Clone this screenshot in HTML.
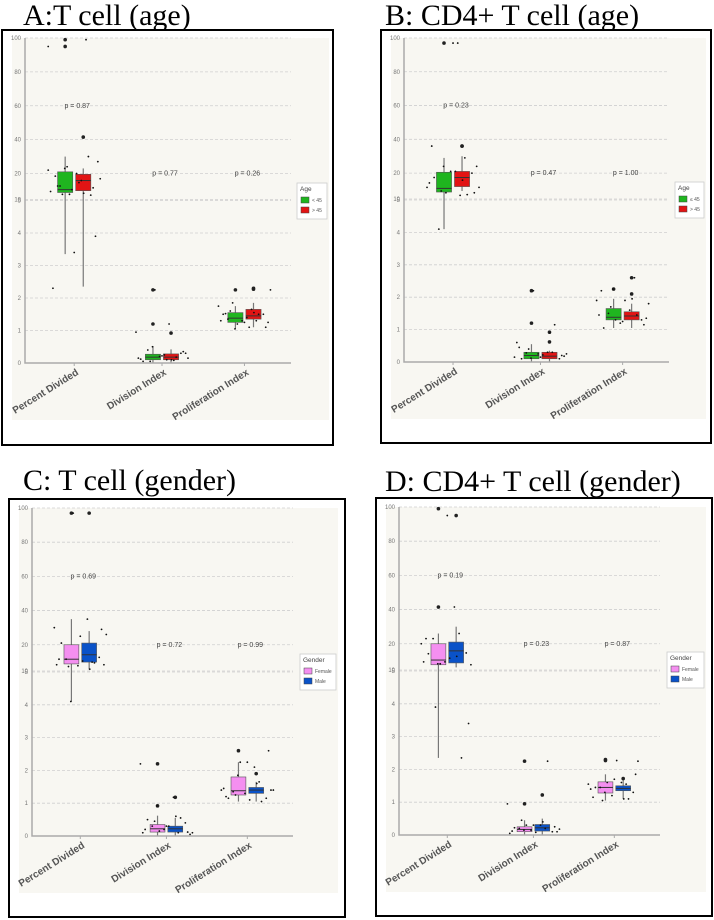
<!DOCTYPE html>
<html><head><meta charset="utf-8"><style>
html,body{margin:0;padding:0;background:#fff;}
svg{display:block;font-family:"Liberation Sans",sans-serif;}
</style></head><body>
<svg id="fig" width="714" height="920" viewBox="0 0 714 920" xmlns="http://www.w3.org/2000/svg"></svg>
<script>
// ---------- data ----------
const categories = ["Percent Divided","Division Index","Proliferation Index"];
const yTicksLower = [0,1,2,3,4,5];
const yTicksUpper = [10,20,40,60,80,100];
// box stats: [q1, median, q3, whiskerLow, whiskerHigh] per category, per group
const boxA1 = [[12.7,13.8,21,3.35,30],[0.1,0.18,0.27,0.02,0.52],[1.25,1.38,1.55,1.05,1.75]];
const boxA2 = [[13.4,17.3,19.7,2.35,23],[0.1,0.18,0.28,0.02,0.42],[1.35,1.45,1.65,1.1,1.85]];
const boxB1 = [[12.7,14.1,20.5,4.1,29],[0.1,0.2,0.3,0.02,0.55],[1.3,1.38,1.65,1.05,1.95]];
const boxB2 = [[14.8,18.3,21,13.1,30],[0.1,0.18,0.3,0.02,0.35],[1.3,1.42,1.55,1.05,1.8]];
const boxC1 = [[12.7,14.5,20,4.1,35],[0.12,0.22,0.35,0.02,0.62],[1.25,1.38,1.8,1.05,2.25]];
const boxC2 = [[13.4,16.2,21,10.7,28],[0.12,0.22,0.3,0.02,0.55],[1.3,1.4,1.48,1.05,1.65]];
const boxD1 = [[12,13.8,20,2.35,26],[0.1,0.17,0.25,0.02,0.45],[1.28,1.45,1.62,1.05,1.85]];
const boxD2 = [[12.7,17.3,21,11,30],[0.12,0.22,0.32,0.02,0.5],[1.35,1.42,1.5,1.1,1.7]];
// outliers per category (group1, group2)
const outA1 = [[99,95],[2.25,1.2],[2.25]];
const outA2 = [[41.5],[0.92],[2.3,2.27]];
const outB1 = [[97],[2.2,1.2],[2.25]];
const outB2 = [[36,36],[0.92,0.62],[2.6,2.1]];
const outC1 = [[97],[2.2,0.92],[2.6]];
const outC2 = [[97],[1.18],[1.9]];
const outD1 = [[99,41.5],[2.25,0.95],[2.3,2.27]];
const outD2 = [[95],[1.22],[1.72]];
// jittered raw points per category
const ptsA = [[22,17.3,15.2,14.5,13.8,13.1,12.4,12,3.9,3.4,2.3,99,23,27,20,19,30,24,18,16.5,15.2,11.7,12,95],
  [0.95,1.2,0.4,0.3,0.2,0.15,0.1,0.05,0.35,0.22,0.12,0.08,0.5,0.3,0.25,0.05,0.18,2.25,0.15,0.1],
  [1.75,1.65,1.6,1.5,1.3,1.3,1.55,1.85,1.1,1.25,1.5,1.3,1.05,1.25,1.4,1.52,1.5,1.2,2.25,1.1,1.35]];
const ptsB = [[14.5,11.4,4.1,20,21,16.2,17.3,13.1,12.4,97,36,29,24,24,21,18.3,11.7,12.4,14.5,97],
  [0.15,0.3,0.28,0.1,0.25,0.6,0.9,0.4,0.2,0.15,0.45,0.3,0.12,0.18,0.22,0.1,1.15,2.2,0.25],
  [1.9,1.6,1.5,1.3,1.2,1.45,1.95,1.7,1.15,1.25,2.2,2.6,2.25,1.35,1.9,1.05,1.45,1.3,1.8]];
const ptsC = [[30,35,14.5,15.2,12,12.4,10.7,11.7,29,25,14.5,13.4,4.1,12.4,13.8,21,13.1,97,26],
  [2.2,1.18,0.3,0.4,0.2,0.1,0.6,0.45,0.12,0.3,0.2,0.1,0.92,0.05,0.3,0.5,0.55,0.15,0.1],
  [1.4,2.1,1.35,1.15,1.3,1.45,1.6,1.25,2.6,2.25,1.2,1.65,1.85,1.4,1.1,1.15,1.05,2.25,1.4]];
const ptsD = [[20,41.5,23,16.5,13.1,13.1,15.2,3.9,3.4,95,23,26,12.4,12,14.5,16.2,2.35,12.4],
  [0.95,0.3,0.2,0.1,0.15,0.05,0.4,0.45,0.25,0.3,0.12,0.2,0.15,0.1,0.08,0.22,2.25,0.3,0.18],
  [1.55,1.6,1.45,1.3,1.2,1.4,1.1,1.05,1.85,1.7,1.15,1.55,1.3,2.25,2.27,1.45,1.1,1.6]];
const pvalsA = ["p = 0.87","p = 0.77","p = 0.26"];
const pvalsB = ["p = 0.23","p = 0.47","p = 1.00"];
const pvalsC = ["p = 0.69","p = 0.72","p = 0.99"];
const pvalsD = ["p = 0.19","p = 0.23","p = 0.87"];
const pvalY = [60,20,20];
const legendA = ["< 45","> 45"], legendB = ["≤ 45","> 45"], legendG = ["Female","Male"];

const NS="http://www.w3.org/2000/svg";
const svg=document.getElementById('fig');
function mk(tag,attrs,parent){const e=document.createElementNS(NS,tag);for(const k in attrs)e.setAttribute(k,attrs[k]);(parent||svg).appendChild(e);return e;}

// broken axis: fraction of height
function frac(v){
  if(v<=5) return 0.1*v;
  if(v<=10) return 0.5+(v-5)/5*0.003;
  if(v<=20) return 0.503+(v-10)/10*0.08;
  return 0.583+(v-20)/80*0.417;
}

function panel(cfg){
  const g=mk('g',{});
  
  
  const H=cfg.y0-cfg.yTop, W=cfg.x1-cfg.x0;
  const Y=v=>cfg.y0-frac(v)*H;
  const X=i=>cfg.x0+[0.185,0.515,0.825][i]*W;
  const bw=W*0.057, off=W*0.034;
  const t=mk('text',{x:cfg.tx,y:cfg.ty,'font-family':'"Liberation Serif",serif','font-size':30,fill:'#000'},g);
  t.textContent=cfg.title;
  
  
  const fr=mk('rect',{x:cfg.fx,y:cfg.fy,width:cfg.fw,height:cfg.fh,fill:'#fff',stroke:'#000','stroke-width':2},g);
  
  
  const bg=mk('rect',{x:cfg.x0-13,y:cfg.yTop,width:cfg.lx+cfg.lw-(cfg.x0-13)+2,height:H+57,fill:'#f8f7f2'},g);
  
  
  const ticks=yTicksLower.concat(yTicksUpper);
  ticks.forEach(v=>{
    const y=Y(v);
    if(v>0){const l=mk('line',{x1:cfg.x0,x2:cfg.x1,y1:y,y2:y,stroke:'#cfcfcf','stroke-width':0.8,'stroke-dasharray':'3,2'},g);
      
      }
    const tl=mk('text',{x:cfg.x0-4,y:y+2,'font-size':6,fill:'#777','text-anchor':'end'},g);
    tl.textContent=v;
    
    
  });
  const ax=mk('path',{d:`M${cfg.x0},${cfg.yTop} V${cfg.y0} H${cfg.x1}`,fill:'none',stroke:'#aaa','stroke-width':1.5},g);
  
  
  categories.forEach((c,i)=>{
    const x=X(i);
    mk('line',{x1:x,x2:x,y1:cfg.y0,y2:cfg.y0+3,stroke:'#aaa'},g);
    const cl=mk('text',{x:x+5,y:cfg.y0+11,'font-size':10,'font-weight':'bold',fill:'#555','text-anchor':'end',transform:`rotate(-32 ${x+5} ${cfg.y0+11})`},g);
    cl.textContent=c;
    
    
    const pv=mk('text',{x:x+3,y:Y(pvalY[i])+2,'font-size':7,fill:'#444','text-anchor':'middle'},g);
    pv.textContent=cfg.pv[i];
    
    
    [[cfg.b1,cfg.c1,cfg.o1,-1],[cfg.b2,cfg.c2,cfg.o2,1]].forEach(([b,col,out,s])=>{
      const cx=x+s*off, st=b[i];
      const w=mk('line',{x1:cx,x2:cx,y1:Y(st[3]),y2:Y(st[4]),stroke:'#777','stroke-width':1.2},g);
      
      
      const r=mk('rect',{x:cx-bw/2,y:Y(st[2]),width:bw,height:Math.max(1,Y(st[0])-Y(st[2])),fill:col,stroke:'#555','stroke-width':0.6},g);
      
      
      mk('line',{x1:cx-bw/2,x2:cx+bw/2,y1:Y(st[1]),y2:Y(st[1]),stroke:'#333','stroke-width':1},g);
      out[i].forEach(v=>{const o=mk('circle',{cx:cx,cy:Y(v),r:1.8,fill:'#222'},g);
        
        });
    });
    cfg.pts[i].forEach((v,k)=>{
      const j=((k*37)%23)/11-1;
      const p=mk('circle',{cx:x+j*26,cy:Y(v),r:0.9,fill:'#111'},g);
      
      
    });
  });
  const lg=mk('g',{},g);
  
  
  mk('rect',{x:cfg.lx,y:cfg.ly,width:cfg.lw,height:36,fill:'#fff',stroke:'#ccc','stroke-width':0.8},lg);
  const lt=mk('text',{x:cfg.lx+3,y:cfg.ly+8,'font-size':6.5,fill:'#444'},lg);
  lt.textContent=cfg.ltitle;
  [[cfg.c1,cfg.leg[0]],[cfg.c2,cfg.leg[1]]].forEach(([col,lab],k)=>{
    const yy=cfg.ly+14+k*10;
    const sw=mk('rect',{x:cfg.lx+4,y:yy,width:8,height:6,fill:col,stroke:'#444','stroke-width':0.5},lg);
    
    
    const tx=mk('text',{x:cfg.lx+15,y:yy+5,'font-size':5,fill:'#555'},lg);
    tx.textContent=lab;
  });
}
const GR='#1fb51f', RD='#e21414', PK='#f48ff0', BL='#0a52c8';
panel({name:'panel-a',title:'A:T cell (age)',tx:23,ty:25,fx:2,fy:30,fw:331,fh:415,x0:25,x1:291,yTop:38,y0:363,
  b1:boxA1,b2:boxA2,o1:outA1,o2:outA2,pts:ptsA,pv:pvalsA,c1:GR,c2:RD,lx:297,ly:183,lw:30,ltitle:'Age',leg:legendA});
panel({name:'panel-b',title:'B: CD4+ T cell (age)',tx:385,ty:25,fx:381,fy:30,fw:330,fh:413,x0:404,x1:669,yTop:38,y0:362,
  b1:boxB1,b2:boxB2,o1:outB1,o2:outB2,pts:ptsB,pv:pvalsB,c1:GR,c2:RD,lx:675,ly:182,lw:29,ltitle:'Age',leg:legendB});
panel({name:'panel-c',title:'C: T cell (gender)',tx:23,ty:490,fx:9,fy:499,fw:336,fh:418,x0:32,x1:293,yTop:508,y0:836,
  b1:boxC1,b2:boxC2,o1:outC1,o2:outC2,pts:ptsC,pv:pvalsC,c1:PK,c2:BL,lx:300,ly:654,lw:36,ltitle:'Gender',leg:legendG});
panel({name:'panel-d',title:'D: CD4+ T cell (gender)',tx:385,ty:491,fx:376,fy:498,fw:336,fh:418,x0:399,x1:660,yTop:507,y0:835,
  b1:boxD1,b2:boxD2,o1:outD1,o2:outD2,pts:ptsD,pv:pvalsD,c1:PK,c2:BL,lx:667,ly:652,lw:37,ltitle:'Gender',leg:legendG});
</script>
</body></html>
